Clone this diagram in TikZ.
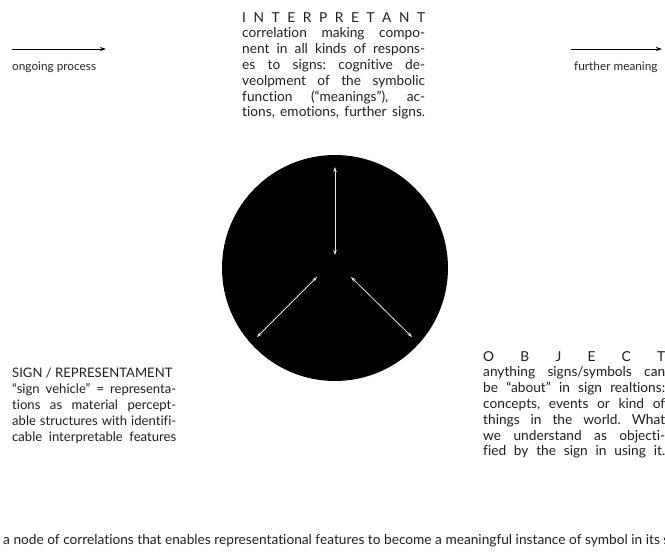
\documentclass[tikz,border=0pt]{standalone}
\usepackage{fontspec}
\setmainfont{Lato}[Ligatures=CommonOff]
\usetikzlibrary{arrows.meta}
\newcommand{\jl}[2][183pt]{\hbox to #1{#2}}
\newcommand{\bodyfont}{\fontsize{13.7}{15.8}\selectfont}
\newcommand{\signfont}{\fontsize{13.1}{15.9}\selectfont}
\begin{document}
\begin{tikzpicture}[x=1pt,y=-1pt,
  txt/.style={font=\bodyfont, inner sep=0pt, anchor=north west, text=black!88},
  small/.style={font=\fontsize{11.8}{13}\selectfont, inner sep=0pt, anchor=west, text=black!85},
  flow/.style={-{Stealth[length=6pt,width=4pt]}, line width=0.9pt, black},
  rel/.style={{Stealth[length=5pt,width=3.5pt]}-{Stealth[length=5pt,width=3.5pt]}, line width=0.8pt, white!90!black}]
\useasboundingbox (0,0) rectangle (665,554);
\clip (0,0) rectangle (665,554);

\node[circle, fill=black, minimum size=226pt, inner sep=0pt] (disc) at (335,268) {};

\coordinate (t1) at (335,167);
\coordinate (t2) at (335,255);
\coordinate (l1) at (317,277);
\coordinate (l2) at (257,337);
\coordinate (r1) at (351,277);
\coordinate (r2) at (412,337);
\draw[rel] (t1) -- (t2);
\draw[rel] (l1) -- (l2);
\draw[rel] (r1) -- (r2);

\coordinate (a1) at (12,49);
\coordinate (a2) at (106,49);
\coordinate (b1) at (571,49);
\coordinate (b2) at (662,49);
\draw[flow] (a1) -- (a2);
\draw[flow] (b1) -- (b2);
\node[small] (ongoing) at (12,67) {ongoing process};
\node[small] (further) at (574,67) {further meaning};

\node[txt] (interp) at (242,12) {\vbox{\bodyfont
\jl{I\hfill N\hfill T\hfill E\hfill R\hfill P\hfill R\hfill E\hfill T\hfill A\hfill N\hfill T}
\jl{correlation\hfill making\hfill compo-}
\jl{nent\hfill in\hfill all\hfill kinds\hfill of\hfill respons-}
\jl{es\hfill to\hfill signs:\hfill cognitive\hfill de-}
\jl{veolpment\hfill of\hfill the\hfill symbolic}
\jl{function\hfill (“meanings”),\hfill ac-}
\jl{tions,\hfill emotions,\hfill further\hfill signs.}}};

\node[txt] (sign) at (12,368) {\vbox{\signfont
\jl[164pt]{SIGN / REPRESENTAMENT\hfill}
\jl[164pt]{“sign\hfill vehicle”\hfill =\hfill representa-}
\jl[164pt]{tions\hfill as\hfill material\hfill percept-}
\jl[164pt]{able\hfill structures\hfill with\hfill identifi-}
\jl[164pt]{cable\hfill interpretable\hfill features}}};

\node[txt] (object) at (483,351) {\vbox{\bodyfont
\jl[182pt]{O\hfill B\hfill J\hfill E\hfill C\hfill T}
\jl[182pt]{anything\hfill signs/symbols\hfill can}
\jl[182pt]{be\hfill “about”\hfill in\hfill sign\hfill realtions:}
\jl[182pt]{concepts,\hfill events\hfill or\hfill kind\hfill of}
\jl[182pt]{things\hfill in\hfill the\hfill world.\hfill What}
\jl[182pt]{we\hfill understand\hfill as\hfill objecti-}
\jl[182pt]{fied\hfill by\hfill the\hfill sign\hfill in\hfill using\hfill it.}}};

\node[txt, font=\fontsize{13.7}{15}\selectfont, anchor=west] (bottom) at (3,541) {a node of correlations that enables representational features to become a meaningful instance of symbol in its system};
\end{tikzpicture}
\end{document}
